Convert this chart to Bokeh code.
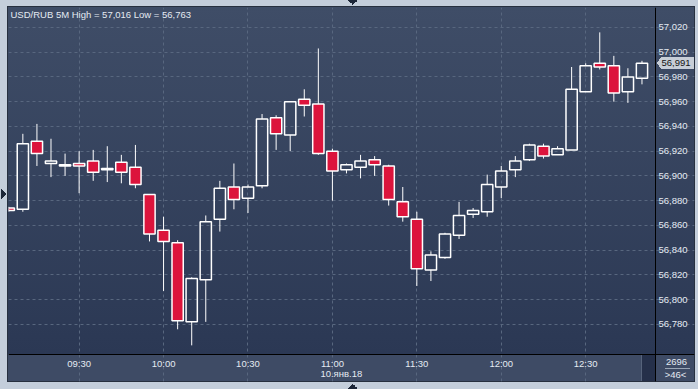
import numpy as np
from bokeh.plotting import figure
from bokeh.models import ColumnDataSource, Range1d, FixedTicker, CustomJSTickFormatter, Label
from bokeh.embed import file_html
from bokeh.resources import INLINE

# ---- data (USD/RUB, 5-minute candles, 10 Jan 2018) ----
times = ["09:05", "09:10", "09:15", "09:20", "09:25", "09:30", "09:35", "09:40", "09:45", "09:50",
         "09:55", "10:00", "10:05", "10:10", "10:15", "10:20", "10:25", "10:30", "10:35", "10:40",
         "10:45", "10:50", "10:55", "11:00", "11:05", "11:10", "11:15", "11:20", "11:25", "11:30",
         "11:35", "11:40", "11:45", "11:50", "11:55", "12:00", "12:05", "12:10", "12:15", "12:20",
         "12:25", "12:30", "12:35", "12:40", "12:45", "12:50"]
opens = [56.874, 56.873, 56.928, 56.910, 56.908, 56.910, 56.912, 56.905, 56.911, 56.907,
         56.885, 56.856, 56.846, 56.782, 56.816, 56.865, 56.891, 56.882, 56.892, 56.947,
         56.933, 56.962, 56.958, 56.920, 56.905, 56.907, 56.913, 56.908, 56.879, 56.865,
         56.824, 56.834, 56.852, 56.869, 56.871, 56.891, 56.905, 56.913, 56.924, 56.917,
         56.921, 56.968, 56.991, 56.989, 56.968, 56.979]
highs = [56.875, 56.934, 56.942, 56.930, 56.918, 56.920, 56.921, 56.924, 56.917, 56.925,
         56.885, 56.867, 56.848, 56.818, 56.868, 56.896, 56.910, 56.893, 56.950, 56.949,
         56.960, 56.970, 57.003, 56.922, 56.910, 56.917, 56.916, 56.909, 56.891, 56.871,
         56.839, 56.854, 56.879, 56.874, 56.901, 56.908, 56.916, 56.926, 56.926, 56.924,
         56.988, 56.991, 57.016, 56.997, 56.987, 56.993]
lows = [56.871, 56.871, 56.908, 56.899, 56.900, 56.886, 56.896, 56.895, 56.894, 56.890,
        56.847, 56.807, 56.776, 56.763, 56.782, 56.855, 56.873, 56.870, 56.890, 56.921,
        56.920, 56.948, 56.917, 56.880, 56.902, 56.898, 56.900, 56.876, 56.863, 56.811,
        56.815, 56.833, 56.849, 56.866, 56.867, 56.882, 56.899, 56.912, 56.914, 56.917,
        56.921, 56.968, 56.986, 56.960, 56.959, 56.974]
closes = [56.872, 56.926, 56.918, 56.912, 56.909, 56.908, 56.903, 56.906, 56.903, 56.893,
          56.853, 56.847, 56.783, 56.817, 56.863, 56.890, 56.881, 56.891, 56.946, 56.934,
          56.960, 56.957, 56.918, 56.904, 56.909, 56.912, 56.909, 56.881, 56.867, 56.825,
          56.836, 56.853, 56.868, 56.872, 56.893, 56.904, 56.912, 56.925, 56.916, 56.922,
          56.970, 56.989, 56.988, 56.967, 56.980, 56.991]
y_ticks = [56.78, 56.80, 56.82, 56.84, 56.86, 56.88, 56.90, 56.92, 56.94, 56.96, 56.98, 57.00, 57.02]
x_tick_labels = ["09:30", "10:00", "10:30", "11:00", "11:30", "12:00", "12:30"]
title_text = "USD/RUB 5M High = 57,016 Low = 56,763"
date_text = "10.янв.18"
corner_top = "2696"
corner_bottom = ">46<"

# ---- derived columns ----
o = np.array(opens); h = np.array(highs); l = np.array(lows); c = np.array(closes)
idx = np.arange(len(times))
body_top = np.maximum(o, c)
body_bot = np.minimum(o, c)
fills = ["#dc143c" if cc < oo else "rgba(0,0,0,0)" for oo, cc in zip(opens, closes)]
src = ColumnDataSource(dict(x=idx, high=h, low=l, top=body_top, bot=body_bot, fill=fills))

# ---- layout of the panel (frame covers the whole dark panel) ----
X0, X_AX, X1 = -0.02, 45.96, 48.733      # left edge, price-axis position, right edge
Y0, Y_AX, Y1 = 56.7338, 56.7556, 57.0361  # bottom edge, time-axis position, top edge

FONT = "Liberation Sans"
FS = "9.5px"
TXT = "#e4eaf2"

p = figure(width=698, height=389, output_backend="svg", toolbar_location=None,
           x_range=Range1d(X0, X1), y_range=Range1d(Y0, Y1),
           x_axis_location="below", y_axis_location="right",
           min_border_left=8, min_border_right=4, min_border_top=7, min_border_bottom=8,
           background_fill_color=None, border_fill_color=None, outline_line_color=None)

D = "#1c2638"
L = "#c7ced7"
bg = ", ".join([
    # window arrows and price pointer
    f"linear-gradient(to top right, {D} 50%, transparent 50%) 1px 189px / 5px 5px no-repeat",
    f"linear-gradient(to bottom right, {D} 50%, transparent 50%) 1px 194px / 5px 5px no-repeat",
    f"linear-gradient(to top right, transparent 50%, {D} 50%) 348px 0px / 5px 5px no-repeat",
    f"linear-gradient(to bottom right, {D} 50%, transparent 50%) 353px 0px / 5px 5px no-repeat",
    f"linear-gradient(to top left, {D} 50%, transparent 50%) 348px 384px / 5px 5px no-repeat",
    f"linear-gradient(to top right, {D} 50%, transparent 50%) 353px 384px / 5px 5px no-repeat",
    f"linear-gradient(to top left, {L} 50%, transparent 50%) 657px 57px / 4px 6px no-repeat",
    f"linear-gradient(to bottom left, {L} 50%, transparent 50%) 657px 63px / 4px 6px no-repeat",
    f"linear-gradient({L},{L}) 661px 57px / 33px 12px no-repeat",
    # corner details
    "linear-gradient(#9aa6b6,#9aa6b6) 665px 368px / 25px 1px no-repeat",
    "linear-gradient(#25304a,#25304a) 642px 355px / 13px 26px no-repeat",
    "linear-gradient(#56637b,#56637b) 641px 355px / 1px 26px no-repeat",
    # panels
    "linear-gradient(#3e4b65,#3e4b65) 8px 354px / 686px 27px no-repeat",
    "linear-gradient(#3f4d67,#2b3854) 8px 7px / 686px 347px no-repeat",
    "linear-gradient(#27303f,#27303f) 7px 6px / 688px 376px no-repeat",
    "#c4cedb",
])
p.styles = {"background": bg}

# axes (placed at fixed data positions inside the panel)
xt = FixedTicker(ticks=[times.index(t) for t in x_tick_labels])
xax = p.xaxis[0]
xax.ticker = xt
xax.fixed_location = Y_AX
xax.major_label_overrides = {times.index(t): t for t in x_tick_labels}
yt = FixedTicker(ticks=y_ticks)
yax = p.yaxis[0]
yax.ticker = yt
yax.fixed_location = X_AX
yax.formatter = CustomJSTickFormatter(code="return tick.toFixed(3).replace('.', ',');")
for ax in (xax, yax):
    ax.axis_line_color = "#000000"
    ax.axis_line_width = 1
    ax.major_tick_line_color = None
    ax.minor_tick_line_color = None
    ax.major_tick_out = 0
    ax.major_tick_in = 0
    ax.minor_tick_out = 0
    ax.minor_tick_in = 0
    ax.major_label_text_font = FONT
    ax.major_label_text_font_size = FS
    ax.major_label_text_color = TXT
    ax.major_label_standoff = 3

p.xgrid.ticker = xt
p.ygrid.ticker = yt
p.xgrid.bounds = (Y_AX, Y1)
p.ygrid.bounds = (X0, X_AX)
for g in (p.xgrid, p.ygrid):
    g.grid_line_color = "#58677f"
    g.grid_line_dash = "3 3"
    g.grid_line_width = 1

# candles
p.segment(x0="x", y0="high", x1="x", y1="top", source=src, line_color="white", line_width=1)
p.segment(x0="x", y0="bot", x1="x", y1="low", source=src, line_color="white", line_width=1)
p.vbar(x="x", width=0.8, top="top", bottom="bot", source=src,
       fill_color="fill", line_color="white", line_width=1.5)

# texts anchored to data positions, nudged in pixels
def lab(x, y, text, dx, dy, **kw):
    opts = dict(text_font=FONT, text_font_size=FS, text_color=TXT, text_baseline="alphabetic")
    opts.update(kw)
    p.add_layout(Label(x=x, y=y, x_offset=dx, y_offset=dy, text=text, **opts))

lab(X0, Y1, title_text, 2, -7)
lab(times.index("11:00"), Y_AX, date_text, -12, -19)
lab(X_AX, Y_AX, corner_top, 21, -7.5, text_align="center")
lab(X_AX, Y_AX, corner_bottom, 20, -19.5, text_align="center")
lab(X_AX, closes[-1], f"{closes[-1]:.3f}".replace(".", ","), 6, 0,
    text_color="#141414", text_baseline="middle")

open("out.html", "w").write(file_html(p, INLINE))
